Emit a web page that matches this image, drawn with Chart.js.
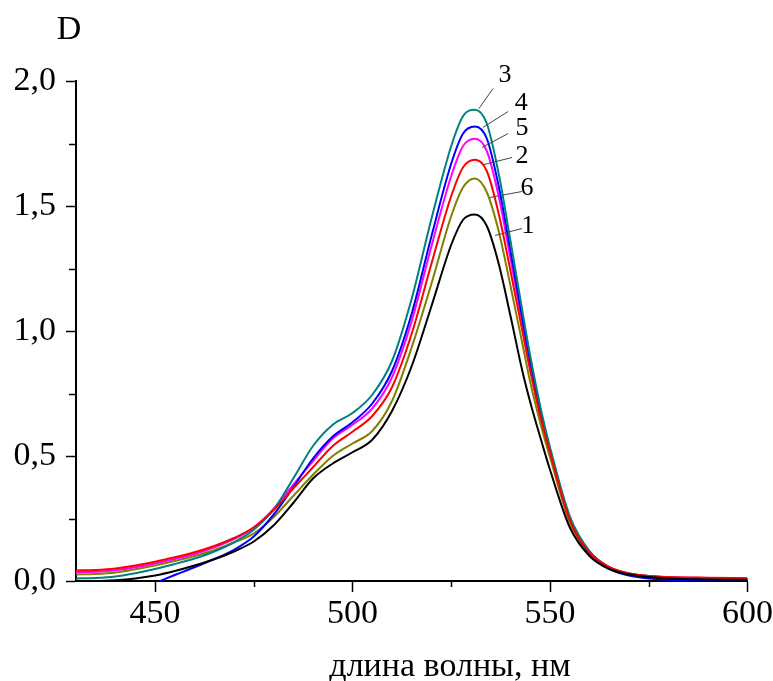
<!DOCTYPE html>
<html>
<head>
<meta charset="utf-8">
<script src="https://cdn.jsdelivr.net/npm/chart.js@4.4.1/dist/chart.umd.min.js"></script>
<style>
  html, body { margin: 0; padding: 0; background: #fff; }
  #wrap { width: 773px; height: 681px; position: relative; }
</style>
</head>
<body>
<div id="wrap"><canvas id="spectra"></canvas></div>
<script>
// --- DATA ---
const wavelengths = [430, 435, 440, 445, 450, 455, 460, 465, 470, 475, 480, 485, 490, 495, 500, 505, 510, 515, 520, 525, 528, 531, 534, 537, 540, 543, 545, 548, 550, 555, 560, 565, 570, 575, 580, 590, 600];

const curve1 = [0.0, 0.0, 0.003, 0.010, 0.022, 0.040, 0.062, 0.087, 0.118, 0.158, 0.222, 0.312, 0.41, 0.47, 0.515, 0.565, 0.68, 0.86, 1.10, 1.345, 1.445, 1.466, 1.42, 1.27, 1.06, 0.84, 0.715, 0.55, 0.445, 0.215, 0.10, 0.048, 0.026, 0.016, 0.01, 0.006, 0.005];
const curve2 = [0.042, 0.044, 0.05, 0.062, 0.077, 0.095, 0.115, 0.14, 0.172, 0.215, 0.283, 0.37, 0.455, 0.54, 0.597, 0.66, 0.775, 0.99, 1.27, 1.54, 1.655, 1.685, 1.64, 1.47, 1.24, 1.0, 0.84, 0.63, 0.515, 0.245, 0.115, 0.055, 0.03, 0.02, 0.016, 0.013, 0.011];
const curve3 = [0.010, 0.012, 0.018, 0.031, 0.048, 0.068, 0.09, 0.118, 0.155, 0.205, 0.285, 0.41, 0.54, 0.625, 0.672, 0.745, 0.88, 1.13, 1.45, 1.74, 1.86, 1.885, 1.83, 1.63, 1.36, 1.08, 0.90, 0.665, 0.535, 0.26, 0.12, 0.056, 0.03, 0.02, 0.014, 0.009, 0.007];
const curve4 = [-0.13, -0.10, -0.07, -0.04, -0.008, 0.024, 0.055, 0.088, 0.125, 0.178, 0.265, 0.375, 0.49, 0.578, 0.635, 0.71, 0.84, 1.07, 1.38, 1.67, 1.79, 1.818, 1.77, 1.58, 1.32, 1.05, 0.875, 0.645, 0.525, 0.25, 0.11, 0.048, 0.022, 0.01, 0.005, 0.002, 0.002];
const curve5 = [0.035, 0.037, 0.043, 0.055, 0.07, 0.088, 0.108, 0.135, 0.168, 0.212, 0.288, 0.385, 0.48, 0.57, 0.625, 0.69, 0.815, 1.04, 1.34, 1.62, 1.74, 1.769, 1.72, 1.54, 1.29, 1.03, 0.86, 0.64, 0.525, 0.25, 0.115, 0.055, 0.03, 0.02, 0.015, 0.012, 0.01];
const curve6 = [0.026, 0.028, 0.034, 0.047, 0.062, 0.08, 0.1, 0.124, 0.154, 0.19, 0.255, 0.34, 0.425, 0.5, 0.55, 0.6, 0.72, 0.935, 1.19, 1.46, 1.575, 1.61, 1.555, 1.40, 1.18, 0.95, 0.795, 0.605, 0.495, 0.235, 0.108, 0.051, 0.028, 0.018, 0.013, 0.01, 0.008];

const curveNames = ["1", "2", "3", "4", "5", "6"];
const curveColors = ["#000000", "#ff0000", "#008080", "#0000ff", "#ff00ff", "#808000"];

// number labels near the peaks (data units): text point, leader start, leader end
const tagNames = ["3", "4", "5", "2", "6", "1"];
const tagText = [[538.6, 2.022], [542.7, 1.91], [542.9, 1.81], [542.9, 1.70], [544.2, 1.57], [544.4, 1.42]];
const tagFrom = [[535.6, 1.97], [539.4, 1.878], [539.4, 1.79], [540.4, 1.694], [542.9, 1.558], [542.9, 1.41]];
const tagTo = [[532.0, 1.89], [533.0, 1.814], [532.8, 1.734], [533.3, 1.666], [534.8, 1.534], [536.1, 1.382]];

const xTicks = [450, 500, 550, 600];
const yTicks = [0, 0.5, 1.0, 1.5, 2.0];

const SERIF = "'Liberation Serif', 'Times New Roman', serif";

// --- BUILD ---
const series = [curve1, curve2, curve3, curve4, curve5, curve6];
const datasets = series.map((vals, i) => ({
  label: curveNames[i],
  data: vals.map((v, k) => ({ x: wavelengths[k], y: v })),
  borderColor: curveColors[i],
  borderWidth: 2,
  pointRadius: 0,
  fill: false,
  cubicInterpolationMode: "monotone"
}));

const extras = {
  id: "extras",
  afterDraw(chart) {
    const { ctx, chartArea: a, scales: { x, y } } = chart;
    ctx.save();
    // minor ticks
    ctx.strokeStyle = "#000";
    ctx.lineWidth = 1.5;
    ctx.beginPath();
    for (let i = 0; i < xTicks.length - 1; i++) {
      const px = Math.round(x.getPixelForValue((xTicks[i] + xTicks[i + 1]) / 2)) + 0.5;
      ctx.moveTo(px, a.bottom); ctx.lineTo(px, a.bottom + 6);
    }
    for (let i = 0; i < yTicks.length - 1; i++) {
      const py = Math.round(y.getPixelForValue((yTicks[i] + yTicks[i + 1]) / 2)) + 0.5;
      ctx.moveTo(a.left, py); ctx.lineTo(a.left - 7, py);
    }
    ctx.stroke();

    // leader lines
    ctx.strokeStyle = "#444";
    ctx.lineWidth = 1;
    ctx.beginPath();
    tagFrom.forEach((p, i) => {
      ctx.moveTo(x.getPixelForValue(p[0]), y.getPixelForValue(p[1]));
      ctx.lineTo(x.getPixelForValue(tagTo[i][0]), y.getPixelForValue(tagTo[i][1]));
    });
    ctx.stroke();

    ctx.fillStyle = "#000";
    ctx.textAlign = "center";
    ctx.textBaseline = "middle";
    ctx.font = "26px " + SERIF;
    tagNames.forEach((t, i) => {
      ctx.fillText(t, x.getPixelForValue(tagText[i][0]), y.getPixelForValue(tagText[i][1]));
    });

    // axis titles
    ctx.font = "34px " + SERIF;
    ctx.fillText("D", a.left - 7, 30);
    ctx.textBaseline = "alphabetic";
    ctx.fillText("длина волны, нм", a.left + 374, 676);
    ctx.restore();
  }
};

new Chart(document.getElementById("spectra"), {
  type: "line",
  data: { datasets },
  options: {
    responsive: true,
    maintainAspectRatio: false,
    animation: false,
    layout: { padding: { left: 0, top: 81, right: 25.5, bottom: 0 } },
    plugins: { legend: { display: false }, tooltip: { enabled: false } },
    scales: {
      x: {
        type: "linear",
        min: 430,
        max: 600,
        border: { color: "#000", width: 2 },
        grid: { drawOnChartArea: false, tickLength: 11, tickColor: "#000", tickWidth: 1.5 },
        ticks: {
          stepSize: 50,
          includeBounds: false,
          color: "#000",
          padding: 2,
          maxRotation: 0,
          font: { family: SERIF, size: 34 }
        },
        afterFit(s) { s.height = 100; s.paddingLeft = 0; s.paddingRight = 0; }
      },
      y: {
        min: 0,
        max: 2.0,
        border: { color: "#000", width: 2 },
        grid: { drawOnChartArea: false, tickLength: 10, tickColor: "#000", tickWidth: 1.5 },
        ticks: {
          stepSize: 0.5,
          color: "#000",
          padding: 10,
          font: { family: SERIF, size: 34 },
          callback: (v) => Number(v).toFixed(1).replace(".", ",")
        },
        afterFit(s) { s.width = 76; s.paddingTop = 0; s.paddingBottom = 0; }
      }
    }
  },
  plugins: [extras]
});
</script>
</body>
</html>
